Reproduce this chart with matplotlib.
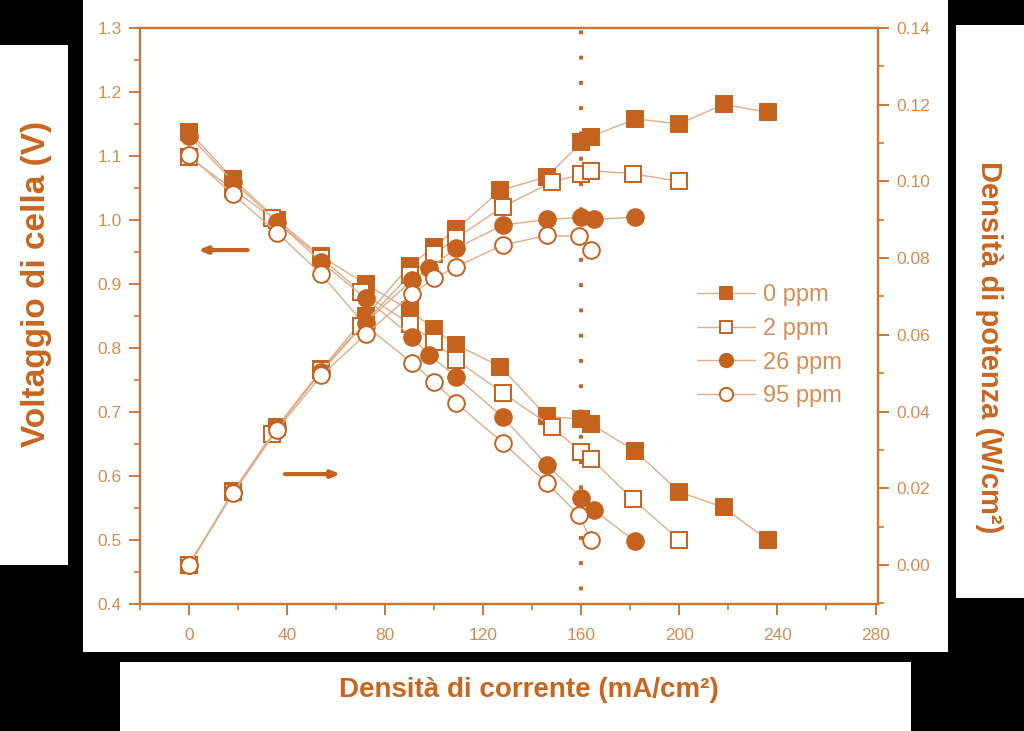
import numpy as np
import matplotlib
matplotlib.use("Agg")
import matplotlib.pyplot as plt
from matplotlib.patches import Rectangle
from matplotlib.ticker import MultipleLocator, FormatStrFormatter

plt.rcParams['font.family'] = ['Liberation Sans', 'DejaVu Sans']

# ---- data ----
labels = ["0 ppm", "2 ppm", "26 ppm", "95 ppm"]

# current density (mA/cm2)
i_0 = [0, 18, 36, 54, 72, 90, 100, 109, 127, 146, 160, 164, 182, 200, 218, 236]
i_2 = [0, 18, 34, 54, 70, 90, 100, 109, 128, 148, 160, 164, 181, 200]
i_26 = [0, 18, 36, 54, 72, 91, 98, 109, 128, 146, 160, 165, 182]
i_95 = [0, 18, 36, 54, 72, 91, 100, 109, 128, 146, 159, 164]

# cell voltage (V)
v_0 = [1.138, 1.064, 1.000, 0.943, 0.900, 0.859, 0.829, 0.805, 0.771, 0.693,
       0.689, 0.681, 0.639, 0.575, 0.551, 0.500]
v_2 = [1.098, 1.048, 1.003, 0.940, 0.888, 0.838, 0.810, 0.781, 0.730, 0.677,
       0.637, 0.627, 0.564, 0.500]
v_26 = [1.132, 1.060, 0.997, 0.934, 0.878, 0.817, 0.789, 0.755, 0.692, 0.617,
        0.566, 0.547, 0.498]
v_95 = [1.101, 1.040, 0.980, 0.915, 0.835, 0.777, 0.747, 0.714, 0.652, 0.589,
        0.539, 0.500]

# power density (W/cm2)
p_0 = [0.000, 0.0192, 0.0360, 0.0510, 0.0648, 0.0780, 0.0830, 0.0875, 0.0977,
       0.1012, 0.1102, 0.1117, 0.1163, 0.1150, 0.1201, 0.1180]
p_2 = [0.000, 0.0189, 0.0341, 0.0508, 0.0622, 0.0755, 0.0810, 0.0852, 0.0934,
       0.0998, 0.1019, 0.1028, 0.1020, 0.1000]
p_26 = [0.000, 0.0191, 0.0359, 0.0504, 0.0632, 0.0743, 0.0773, 0.0826, 0.0886,
        0.0901, 0.0906, 0.0901, 0.0907]
p_95 = [0.000, 0.0187, 0.0353, 0.0494, 0.0601, 0.0707, 0.0747, 0.0778, 0.0834,
        0.0859, 0.0857, 0.0820]

# ---- styles ----
mk_col = "#C4621E"
ln_col = "#DDAE8A"
ax_col = "#C9783A"
tk_col = "#D48D55"
lab_col = "#C8661F"

fig = plt.figure(figsize=(10.24, 7.31), dpi=100)
fig.patch.set_facecolor("black")

# white panels on the black page
for (x0, y0, w, h) in [(0.081, 0.108, 0.845, 0.892),
                       (0.0, 0.227, 0.0664, 0.711),
                       (0.9336, 0.182, 0.0664, 0.784),
                       (0.117, 0.0, 0.773, 0.0944)]:
    fig.add_artist(Rectangle((x0, y0), w, h, transform=fig.transFigure,
                             facecolor="white", edgecolor="none", zorder=0))

ax = fig.add_axes([0.1367, 0.1737, 0.7207, 0.788])
ax.set_facecolor("none")
ax2 = ax.twinx()
ax2.set_facecolor("none")

series = [
    (i_0, v_0, p_0, "s", mk_col),
    (i_2, v_2, p_2, "s", "white"),
    (i_26, v_26, p_26, "o", mk_col),
    (i_95, v_95, p_95, "o", "white"),
]

handles = []
for (i, v, p, m, fc), lab in zip(series, labels):
    ms = 11 if m == "s" else 12
    h, = ax.plot(i, v, color=ln_col, lw=1.0, marker=m, ms=ms, mfc=fc,
                 mec=mk_col, mew=1.4, label=lab)
    ax2.plot(i, p, color=ln_col, lw=1.0, marker=m, ms=ms, mfc=fc,
             mec=mk_col, mew=1.4)
    handles.append(h)

# dotted line at 160 mA/cm2
ax.axvline(160, color=mk_col, lw=2.8, ls=(3, (1, 5.5)), zorder=1)

# arrows showing which axis each family belongs to
ax.annotate("", xy=(2.5, 0.953), xytext=(25, 0.953),
            arrowprops=dict(arrowstyle="-|>,head_length=0.5,head_width=0.2",
                            color=mk_col, lw=3))
ax.annotate("", xy=(63, 0.603), xytext=(38, 0.603),
            arrowprops=dict(arrowstyle="-|>,head_length=0.5,head_width=0.2",
                            color=mk_col, lw=3))

ax.set_xlim(-20, 281)
ax.set_ylim(0.4, 1.3)
ax2.set_ylim(-0.0102, 0.14)

ax.xaxis.set_major_locator(MultipleLocator(40))
ax.xaxis.set_minor_locator(MultipleLocator(20))
ax.yaxis.set_major_locator(MultipleLocator(0.1))
ax.yaxis.set_minor_locator(MultipleLocator(0.05))
ax.yaxis.set_major_formatter(FormatStrFormatter("%.1f"))
ax2.yaxis.set_minor_locator(MultipleLocator(0.01))
ax2.yaxis.set_major_formatter(FormatStrFormatter("%.2f"))
ax2.set_yticks([0.0, 0.02, 0.04, 0.06, 0.08, 0.10, 0.12, 0.14])

for a in (ax, ax2):
    for s in a.spines.values():
        s.set_color(ax_col)
        s.set_linewidth(1.6)
    a.tick_params(which="major", direction="out", length=8, width=1.4,
                  color=ax_col, labelcolor=tk_col, labelsize=12.5, pad=5)
    a.tick_params(which="minor", direction="out", length=4, width=1.2,
                  color=ax_col)
ax.tick_params(axis="x", which="major", pad=9)

leg = ax.legend(handles=handles, loc="upper left",
                bbox_to_anchor=(0.742, 0.572), frameon=False, fontsize=17,
                handlelength=2.45, handletextpad=0.35, labelspacing=0.5,
                borderaxespad=0, markerscale=0.8, labelcolor=tk_col)

# axis titles sit in the white side panels
fig.text(0.036, 0.611, "Voltaggio di cella (V)", rotation=90, ha="center",
         va="center", color=lab_col, fontsize=24, fontweight="bold")
fig.text(0.966, 0.525, "Densità di potenza (W/cm²)", rotation=-90,
         ha="center", va="center", color=lab_col, fontsize=21,
         fontweight="bold")
fig.text(0.516, 0.056, "Densità di corrente (mA/cm²)", ha="center",
         va="center", color=lab_col, fontsize=20, fontweight="bold")

fig.savefig("out.png", dpi=100, facecolor=fig.get_facecolor())
